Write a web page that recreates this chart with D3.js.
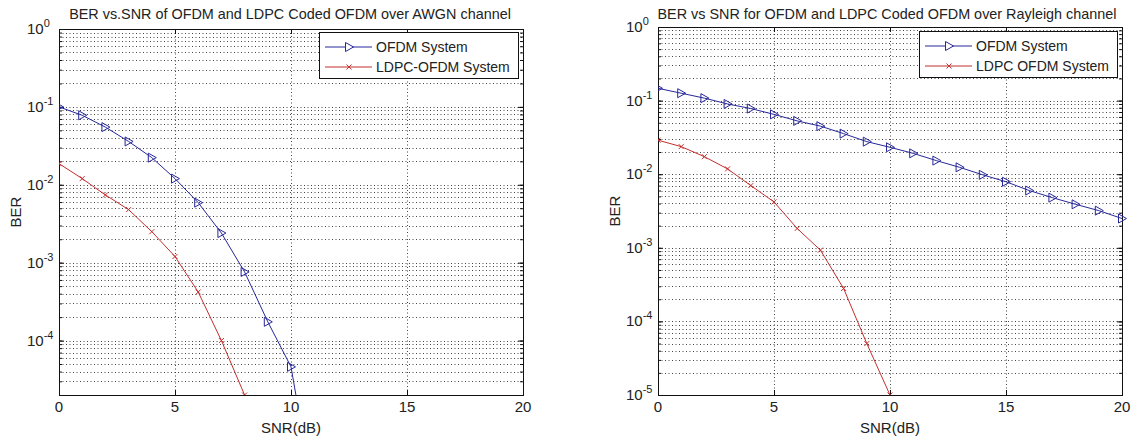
<!DOCTYPE html>
<html>
<head>
<meta charset="utf-8">
<script src="https://cdn.jsdelivr.net/npm/d3@7"></script>
<style>
  body { margin: 0; background: #fff; }
  text { font-family: "Liberation Sans", Arial, sans-serif; fill: #222; }
</style>
</head>
<body>
<div id="content"></div>
<script>
// values
var awgnSnrOfdm = [0, 1, 2, 3, 4, 5, 6, 7, 8, 9, 10, 11],
    awgnBerOfdm = [0.1, 0.078, 0.055, 0.036, 0.0223, 0.012, 0.0059, 0.0024, 7.6e-4, 1.74e-4, 4.6e-5, 9e-7],
    awgnSnrLdpc = [0, 1, 2, 3, 4, 5, 6, 7, 8],
    awgnBerLdpc = [0.0187, 0.012, 0.0074, 0.0048, 0.0025, 0.0012, 4.2e-4, 1.0e-4, 2.0e-5],

    rayleighSnrOfdm = [0, 1, 2, 3, 4, 5, 6, 7, 8, 9, 10, 11, 12, 13, 14, 15, 16, 17, 18, 19, 20],
    rayleighBerOfdm = [0.147, 0.126, 0.108, 0.090, 0.078, 0.065, 0.053, 0.045, 0.0356, 0.0277, 0.0232,
                       0.0192, 0.0153, 0.0124, 0.0098, 0.0079, 0.0060, 0.0048, 0.0039, 0.0032, 0.0025],
    rayleighSnrLdpc = [0, 1, 2, 3, 4, 5, 6, 7, 8, 9, 10],
    rayleighBerLdpc = [0.029, 0.0237, 0.0173, 0.0118, 0.0070, 0.0042, 0.00183, 9.3e-4, 2.8e-4, 5.0e-5, 1.0e-5],

    xTicks = [0, 5, 10, 15, 20],
    awgnDecades = [0, -1, -2, -3, -4],
    rayleighDecades = [0, -1, -2, -3, -4, -5],
    awgnLegend = ['OFDM System', 'LDPC-OFDM System'],
    rayleighLegend = ['OFDM System', 'LDPC OFDM System'];

var width = 1133, height = 439,
    blue = '#27279a', red = '#c42f2f',
    fs = '15px';

var svg = d3.select('#content').append('svg')
    .attr('width', width)
    .attr('height', height);

function panel(o) {
    var x = d3.scaleLinear().domain([0, 20]).range([o.left, o.right]),
        y = d3.scaleLog().domain(o.yDomain).range([o.bottom, o.top]),
        g = svg.append('g');

    // grid lines (major + log minor)
    var minor = [];
    for (var e = -6; e <= 0; e++) {
        for (var k = 1; k < 10; k++) {
            var v = k * Math.pow(10, e);
            if (v >= o.yDomain[0] * 1.0001 && v < o.yDomain[1] * 0.9999) minor.push(v);
        }
    }
    g.selectAll('line.hgrid').data(minor).enter().append('line')
        .attr('class', 'hgrid')
        .attr('x1', o.left).attr('x2', o.right)
        .attr('y1', function(d){ return Math.round(y(d)) + 0.5; })
        .attr('y2', function(d){ return Math.round(y(d)) + 0.5; })
        .attr('stroke', '#444').attr('stroke-dasharray', '1,2.5');
    g.selectAll('line.vgrid').data(xTicks.slice(1, -1)).enter().append('line')
        .attr('class', 'vgrid')
        .attr('x1', function(d){ return Math.round(x(d)) + 0.5; })
        .attr('x2', function(d){ return Math.round(x(d)) + 0.5; })
        .attr('y1', o.top).attr('y2', o.bottom)
        .attr('stroke', '#444').attr('stroke-dasharray', '1,2.5');

    // ticks inside the box, all four sides
    var decVals = o.decades.map(function(d){ return Math.pow(10, d); });
    g.append('g').attr('transform', 'translate(0,' + o.bottom + ')')
        .call(d3.axisBottom(x).tickValues(xTicks).tickSize(-5).tickFormat(''));
    g.append('g').attr('transform', 'translate(0,' + o.top + ')')
        .call(d3.axisTop(x).tickValues(xTicks).tickSize(-5).tickFormat(''));
    g.append('g').attr('transform', 'translate(' + o.left + ',0)')
        .call(d3.axisLeft(y).tickValues(decVals).tickSize(-5).tickFormat(''));
    g.append('g').attr('transform', 'translate(' + o.right + ',0)')
        .call(d3.axisRight(y).tickValues(decVals).tickSize(-5).tickFormat(''));
    g.append('g').attr('transform', 'translate(' + o.left + ',0)')
        .call(d3.axisLeft(y).tickValues(minor).tickSize(-3).tickFormat(''));
    g.append('g').attr('transform', 'translate(' + o.right + ',0)')
        .call(d3.axisRight(y).tickValues(minor).tickSize(-3).tickFormat(''));
    g.selectAll('.domain').remove();
    g.selectAll('.tick line').attr('stroke', '#111');

    g.append('rect')
        .attr('x', o.left + 0.5).attr('y', o.top + 0.5)
        .attr('width', o.right - o.left).attr('height', o.bottom - o.top)
        .attr('fill', 'none').attr('stroke', '#111');

    // tick labels
    g.selectAll('text.xt').data(xTicks).enter().append('text')
        .attr('class', 'xt')
        .attr('x', function(d){ return x(d); })
        .attr('y', o.bottom + 17)
        .attr('text-anchor', 'middle')
        .style('font-size', fs)
        .text(function(d){ return d; });

    var yl = g.selectAll('text.yt').data(o.decades).enter().append('text')
        .attr('class', 'yt')
        .attr('x', o.left - 32)
        .attr('y', function(d){ return y(Math.pow(10, d)) + 5; })
        .style('font-size', fs);
    yl.append('tspan').text('10');
    yl.append('tspan').attr('dy', -7).style('font-size', '11px')
        .text(function(d){ return d; });

    g.append('text')
        .attr('x', (o.left + o.right) / 2).attr('y', o.bottom + 38)
        .attr('text-anchor', 'middle')
        .style('font-size', fs)
        .text('SNR(dB)');
    g.append('text')
        .attr('transform', 'translate(' + (o.left - 38) + ',' + ((o.top + o.bottom) / 2) + ') rotate(-90)')
        .attr('text-anchor', 'middle')
        .style('font-size', fs)
        .text('BER');
    g.append('text')
        .attr('x', o.titleX).attr('y', 19)
        .attr('text-anchor', 'middle')
        .style('font-size', '14.4px')
        .text(o.title);

    // curves
    var clipId = 'clip' + o.left;
    svg.append('clipPath').attr('id', clipId).append('rect')
        .attr('x', o.left).attr('y', o.top - 6)
        .attr('width', o.right - o.left + 6).attr('height', o.bottom - o.top + 6);
    var plot = g.append('g').attr('clip-path', 'url(#' + clipId + ')');

    var line = d3.line()
        .x(function(d){ return x(d[0]); })
        .y(function(d){ return y(d[1]); });

    var series = [
        { snr: o.snrOfdm, ber: o.berOfdm, color: blue, marker: 'tri' },
        { snr: o.snrLdpc, ber: o.berLdpc, color: red, marker: 'x' }
    ];
    series.forEach(function(s){
        var pts = d3.zip(s.snr, s.ber);
        plot.append('path').datum(pts)
            .attr('d', line)
            .attr('fill', 'none').attr('stroke', s.color).attr('stroke-width', 1);
        plot.selectAll(null).data(pts).enter().append('path')
            .attr('transform', function(d){ return 'translate(' + x(d[0]) + ',' + y(d[1]) + ')'; })
            .attr('d', s.marker === 'tri' ? 'M-3.5,-4.5L4.5,0L-3.5,4.5Z' : 'M-2.5,-2.5L2.5,2.5M-2.5,2.5L2.5,-2.5')
            .attr('fill', 'none').attr('stroke', s.color).attr('stroke-width', 1);
    });

    // legend
    var lg = g.append('g').attr('transform', 'translate(' + o.legX + ',' + o.legY + ')');
    lg.append('rect')
        .attr('x', 0.5).attr('y', 0.5)
        .attr('width', o.legW).attr('height', 46)
        .attr('fill', '#fff').attr('stroke', '#111');
    series.forEach(function(s, i){
        var cy = 15 + i * 20;
        lg.append('line')
            .attr('x1', 6).attr('x2', 53).attr('y1', cy).attr('y2', cy)
            .attr('stroke', s.color);
        lg.append('path')
            .attr('transform', 'translate(30,' + cy + ')')
            .attr('d', s.marker === 'tri' ? 'M-3.5,-4.5L4.5,0L-3.5,4.5Z' : 'M-2.5,-2.5L2.5,2.5M-2.5,2.5L2.5,-2.5')
            .attr('fill', s.marker === 'tri' ? '#fff' : 'none').attr('stroke', s.color);
        lg.append('text')
            .attr('x', 57).attr('y', cy + 5)
            .style('font-size', '14px')
            .text(o.legend[i]);
    });
}

panel({
    left: 59, right: 523, top: 29, bottom: 395,
    yDomain: [2e-5, 1], decades: awgnDecades,
    snrOfdm: awgnSnrOfdm, berOfdm: awgnBerOfdm,
    snrLdpc: awgnSnrLdpc, berLdpc: awgnBerLdpc,
    title: 'BER vs.SNR of OFDM and LDPC Coded OFDM over AWGN channel', titleX: 290,
    legend: awgnLegend, legX: 319, legY: 32, legW: 199
});

panel({
    left: 658, right: 1122, top: 27, bottom: 395,
    yDomain: [1e-5, 1], decades: rayleighDecades,
    snrOfdm: rayleighSnrOfdm, berOfdm: rayleighBerOfdm,
    snrLdpc: rayleighSnrLdpc, berLdpc: rayleighBerLdpc,
    title: 'BER vs SNR for OFDM and LDPC Coded OFDM over Rayleigh channel', titleX: 887,
    legend: rayleighLegend, legX: 919, legY: 31, legW: 198
});
</script>
</body>
</html>
